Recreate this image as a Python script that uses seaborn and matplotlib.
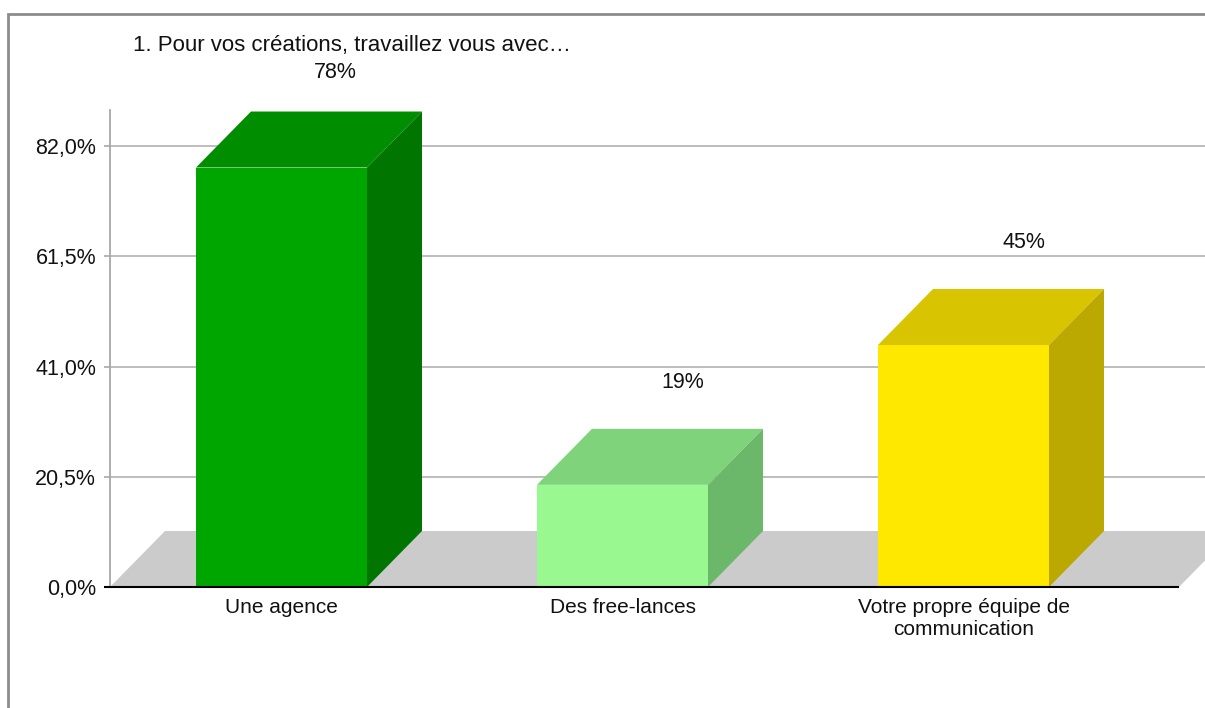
import matplotlib
matplotlib.use("Agg")
import matplotlib.pyplot as plt
from matplotlib.patches import Rectangle, Polygon
import seaborn as sns
import pandas as pd

# Survey answers and share of respondents (%)
categories = ["Une agence", "Des free-lances", "Votre propre équipe de\ncommunication"]
values = [78, 19, 45]
value_labels = ["78%", "19%", "45%"]
y_ticks = [0.0, 20.5, 41.0, 61.5, 82.0]
title = "1. Pour vos créations, travaillez vous avec…"

front_colors = ["#00a600", "#99f990", "#ffe800"]
top_colors = ["#008e00", "#7fd37a", "#d8c400"]
side_colors = ["#007600", "#6bb86a", "#bba800"]
floor_color = "#cbcbcb"

sns.set_theme(style="white")
plt.rcParams["font.family"] = ["Liberation Sans", "DejaVu Sans"]

W, H = 1205, 708
fig = plt.figure(figsize=(W / 100, H / 100), dpi=100)
fig.patch.set_facecolor("white")

# plot area in pixels
left_px, right_px, top_px, bottom_px = 110, 1205, 110, 587
ax = fig.add_axes([left_px / W, 1 - bottom_px / H,
                   (right_px - left_px) / W, (bottom_px - top_px) / H])

# scales: category step 341 px, 5.378 px per percent
step_px = 341.0
px_per_pct = 5.378
x0 = -(281.5 - left_px) / step_px
x1 = x0 + (right_px - left_px) / step_px
y1 = (bottom_px - top_px) / px_per_pct

# perspective depth of the boxes
depth_x = 55 / step_px
depth_y = 56 / px_per_pct
bar_w = 171 / step_px

df = pd.DataFrame({"categorie": categories, "valeur": values})
sns.barplot(data=df, x="categorie", y="valeur", hue="categorie",
            palette=front_colors, saturation=1, width=bar_w,
            linewidth=0, legend=False, ax=ax, zorder=3)

ax.set_xlim(x0, x1)
ax.set_ylim(0, y1)

# floor of the 3D scene
floor_right = x0 + (1179 - left_px) / step_px
ax.add_patch(Polygon([(x0, 0), (floor_right, 0),
                      (floor_right + depth_x, depth_y), (x0 + depth_x, depth_y)],
                     closed=True, facecolor=floor_color, edgecolor="none",
                     zorder=1, clip_on=False))

# highest position a value label may take (just under the title)
label_ceiling = (bottom_px - 72) / px_per_pct

# top and side faces of each box
for i, v in enumerate(values):
    xl, xr = i - bar_w / 2, i + bar_w / 2
    ax.add_patch(Polygon([(xl, v), (xr, v), (xr + depth_x, v + depth_y),
                          (xl + depth_x, v + depth_y)],
                         closed=True, facecolor=top_colors[i], edgecolor="none",
                         zorder=3, clip_on=False))
    ax.add_patch(Polygon([(xr, 0), (xr + depth_x, depth_y),
                          (xr + depth_x, v + depth_y), (xr, v)],
                         closed=True, facecolor=side_colors[i], edgecolor="none",
                         zorder=3, clip_on=False))
    ly = min(v + depth_y + 46 / px_per_pct, label_ceiling)
    lx = i + depth_x + (5 if ly < label_ceiling else -1) / step_px
    ax.text(lx, ly, value_labels[i], ha="center", va="center", fontsize=15.5,
            color="#111111", clip_on=False)

# grid lines and axes
for t in y_ticks[1:]:
    ax.axhline(t, color="#bdbdbd", linewidth=1.4, zorder=0.5)
ax.hlines(0, x0 - 6 / step_px, floor_right, color="black", linewidth=1.5,
          zorder=4, clip_on=False)

for s in ["top", "right", "bottom"]:
    ax.spines[s].set_visible(False)
ax.spines["left"].set_color("#a8a8a8")
ax.spines["left"].set_linewidth(1.3)

ax.set_yticks(y_ticks)
ax.set_yticklabels([f"{t:.1f}".replace(".", ",") + "%" for t in y_ticks],
                   fontsize=15.5, color="#111111")
ax.tick_params(axis="y", length=4, width=1.2, color="#a8a8a8", pad=6, left=True)
ax.tick_params(axis="x", length=0, pad=8, labelsize=15, labelcolor="#111111")
ax.set_xlabel("")
ax.set_ylabel("")
ax.grid(False)
ax.set_facecolor("none")

fig.text(133 / W, 1 - 45 / H, title, ha="left", va="center",
         fontsize=16, color="#111111")

# outer frame of the chart
fig.patches.append(Rectangle((8 / W, -0.05), 1.1, 1 - 14 / H + 0.05,
                             transform=fig.transFigure, fill=False,
                             edgecolor="#8c8c8c", linewidth=2, zorder=0))

fig.savefig("out.png", dpi=100)
